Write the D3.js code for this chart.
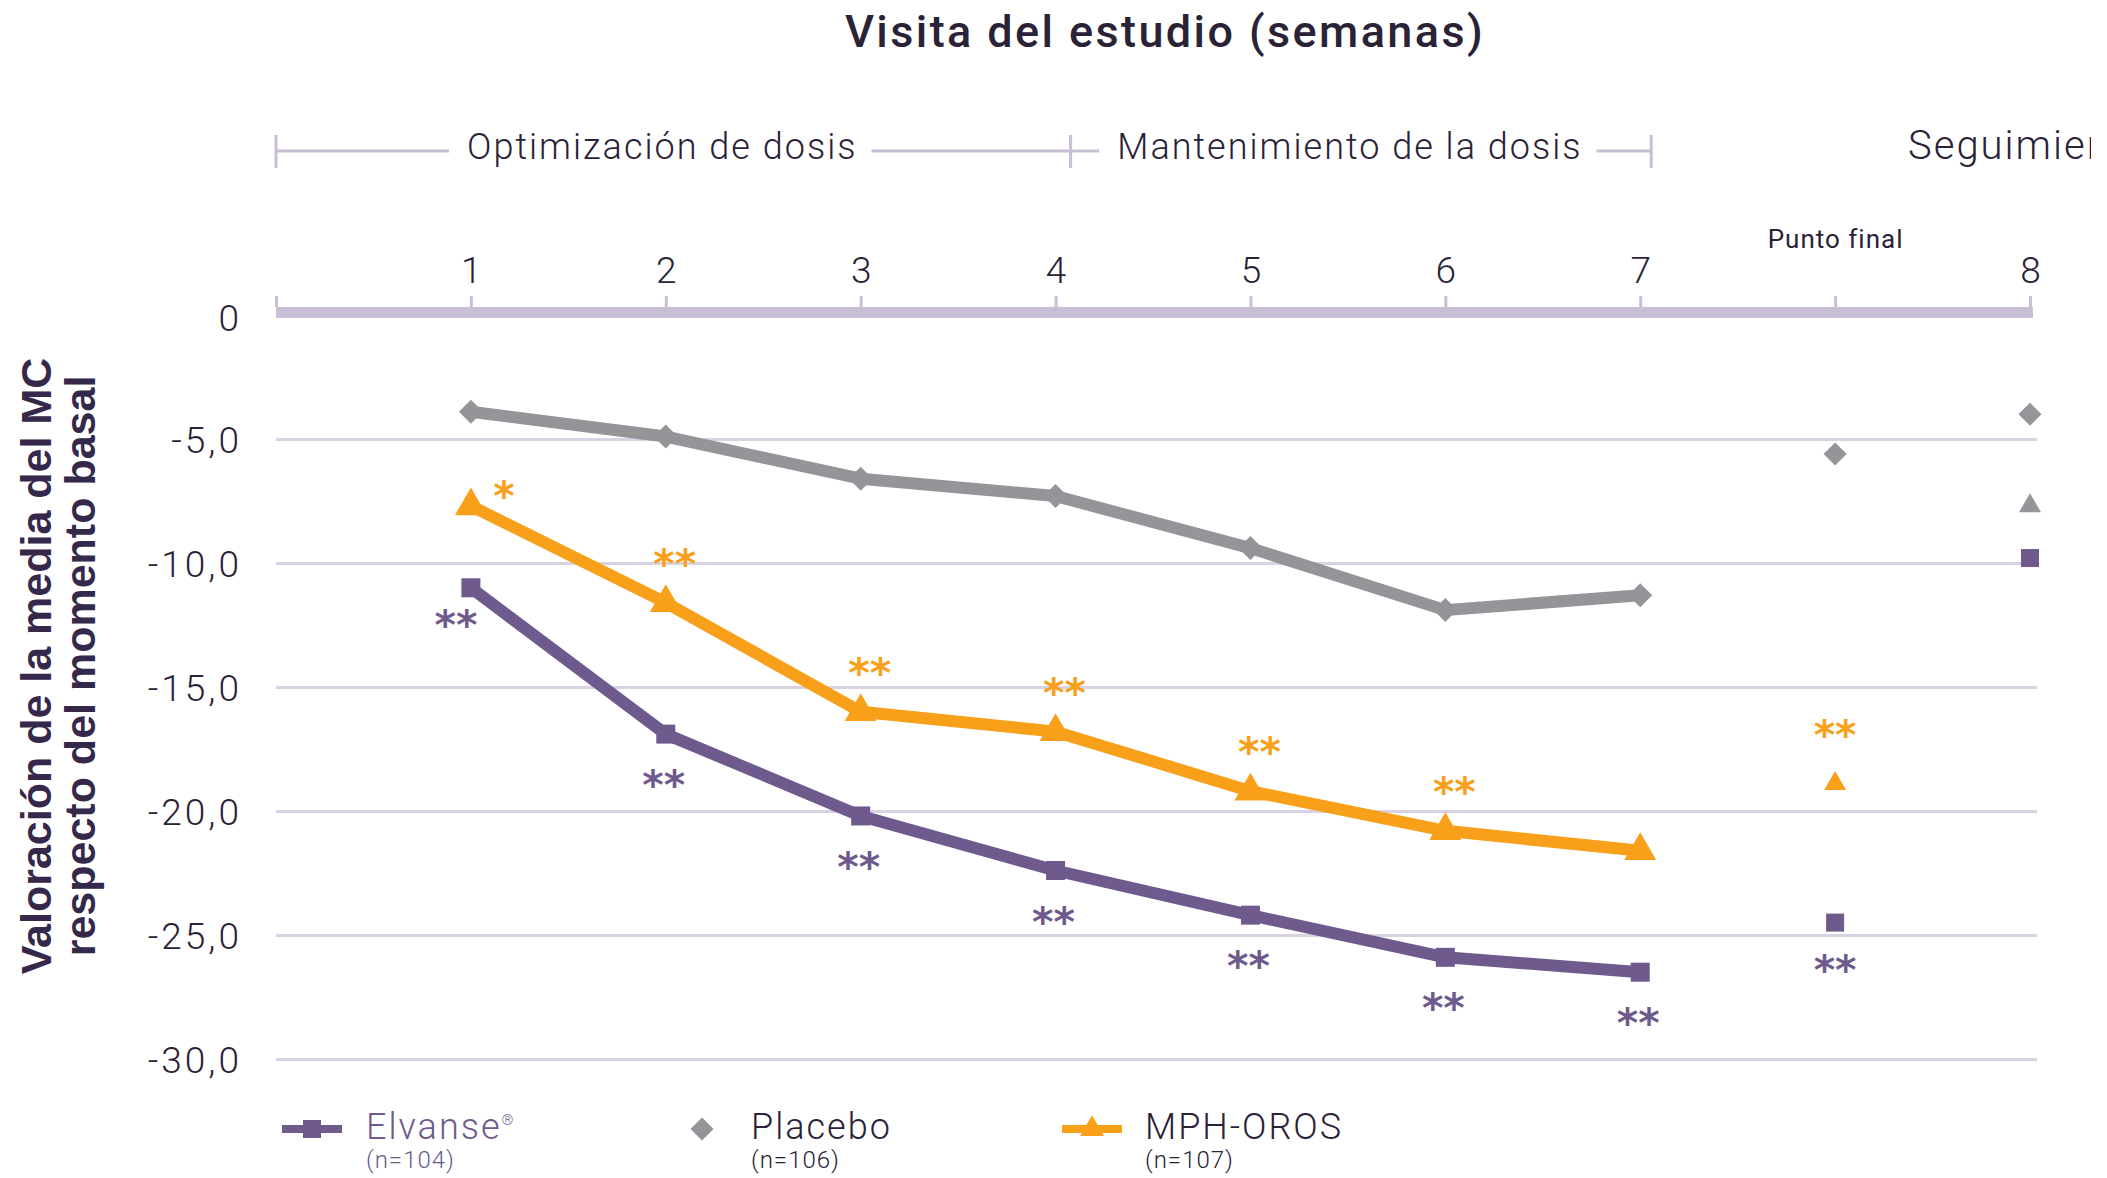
<!DOCTYPE html>
<html>
<head>
<meta charset="utf-8">
<script src="https://cdn.jsdelivr.net/npm/d3@7"></script>
<style>
  html, body { margin: 0; padding: 0; background: #fff; }
  svg { display: block; }
</style>
</head>
<body>
<svg id="chart" width="2107" height="1178"></svg>
<script>
// x positions: '0' is the start of the axis, 'PF' is the "Punto final" column
const visits = ['0', '1', '2', '3', '4', '5', '6', '7', 'PF', '8'];
const weeks = ['1', '2', '3', '4', '5', '6', '7'];
const yTicks = [0, -5, -10, -15, -20, -25, -30];

// LS mean change from baseline, weeks 1-7
const elvanse = [-11.0, -16.9, -20.2, -22.4, -24.2, -25.9, -26.5];
const placebo = [-3.9, -4.9, -6.6, -7.3, -9.4, -11.9, -11.3];
const mphOros = [-7.7, -11.6, -16.0, -16.8, -19.2, -20.8, -21.6];

// endpoint and follow-up (week 8) values: elvanse, placebo, mph-oros
const endpointVals = [-24.5, -5.6, -18.9];
const followUpVals = [-9.8, -4.0, -7.7];

// significance marks
const elvanseSig = ['**', '**', '**', '**', '**', '**', '**'];
const mphSig = ['*', '**', '**', '**', '**', '**', ''];
const endpointSig = ['**', '', '**'];

const legendNames = ['Elvanse', 'Placebo', 'MPH-OROS'];
const legendN = ['(n=104)', '(n=106)', '(n=107)'];

const PURPLE = '#6e5a8d', ORANGE = '#f9a01b', GRAY = '#939598';
const TEXT = '#2a2236', GRID = '#d9d2e3', BAR = '#c8bfd6';
const LIGHT = '300 36px Roboto';

const svg = d3.select('#chart');

const x = d3.scalePoint().domain(visits).range([276, 2030]);
const y = d3.scaleLinear().domain([0, -30]).range([315, 1059]);

const fmt = d3.formatLocale({ decimal: ',', thousands: '.', grouping: [3], currency: ['', ''], minus: '-' }).format('.1f');

// shapes
const square = s => `M${-s / 2},${-s / 2}h${s}v${s}h${-s}Z`;
const diamond = r => `M0,${-r}L${r},0L0,${r}L${-r},0Z`;
const triangle = side => {
    const h = side * Math.sqrt(3) / 2;
    return `M0,${-2 * h / 3}L${side / 2},${h / 3}L${-side / 2},${h / 3}Z`;
};

// title
svg.append('text')
    .attr('x', 1165).attr('y', 47)
    .attr('text-anchor', 'middle')
    .style('font', '500 45px Roboto')
    .style('letter-spacing', '2.4px')
    .style('fill', TEXT)
    .text('Visita del estudio (semanas)');

// y axis title
const yTitle = svg.append('g').attr('transform', 'translate(0,666) rotate(-90)')
    .style('font', 'bold 43px "Liberation Sans"')
    .style('fill', '#35284a')
    .attr('text-anchor', 'middle');
yTitle.append('text').attr('x', 0).attr('y', 51).text('Valoración de la media del MC');
yTitle.append('text').attr('x', 0).attr('y', 95).text('respecto del momento basal');

// phase brackets
const phases = [
    { name: 'Optimización de dosis', a: x('0'), b: x('4') + 15 },
    { name: 'Mantenimiento de la dosis', a: x('4') + 15, b: x('7') + 11 }
];
const bracketY = 151;
const pg = svg.append('g');
phases.forEach(p => {
    const cx = (p.a + p.b) / 2 - 11;
    const t = pg.append('text')
        .attr('x', cx).attr('y', 159)
        .attr('text-anchor', 'middle')
        .style('font', LIGHT)
        .style('letter-spacing', '2px')
        .style('fill', TEXT)
        .text(p.name);
    const w = t.node().getComputedTextLength();
    pg.append('line').attr('x1', p.a).attr('x2', cx - w / 2 - 18)
        .attr('y1', bracketY).attr('y2', bracketY);
    pg.append('line').attr('x1', cx + w / 2 + 14).attr('x2', p.b)
        .attr('y1', bracketY).attr('y2', bracketY);
    [p.a, p.b].forEach(v => pg.append('line')
        .attr('x1', v).attr('x2', v).attr('y1', 135).attr('y2', 168));
});
pg.selectAll('line').style('stroke', BAR).style('stroke-width', 3);

// follow-up label, cut at the right edge as in the source
svg.append('defs').append('clipPath').attr('id', 'cut')
    .append('rect').attr('x', 0).attr('y', 0).attr('width', 2091).attr('height', 1178);
svg.append('text')
    .attr('clip-path', 'url(#cut)')
    .attr('x', 1908).attr('y', 159)
    .style('font', '300 40px Roboto')
    .style('letter-spacing', '2px')
    .style('fill', TEXT)
    .text('Seguimiento');

// y axis + gridlines
const yAxis = svg.append('g')
    .attr('transform', `translate(${x('0')},0)`)
    .call(d3.axisLeft(y).tickValues(yTicks)
        .tickSize(-(2037 - x('0')))
        .tickPadding(34)
        .tickFormat(d => d === 0 ? '0' : fmt(d)));
yAxis.select('.domain').remove();
yAxis.selectAll('.tick line').style('stroke', GRID).style('stroke-width', 3)
    .style('opacity', d => d === 0 ? 0 : 1);
yAxis.selectAll('.tick text')
    .style('font', '300 37px Roboto').style('fill', TEXT)
    .style('letter-spacing', '3px')
    .attr('dy', d => d === 0 ? '0.42em' : '0.36em');

// x axis: thick bar at zero with ticks on top
svg.append('rect')
    .attr('x', x('0')).attr('y', y(0) - 8)
    .attr('width', x('8') + 3 - x('0')).attr('height', 11)
    .style('fill', BAR);
const xAxis = svg.append('g')
    .attr('transform', `translate(0,${y(0) - 8})`)
    .call(d3.axisTop(x).tickSize(11).tickPadding(13)
        .tickFormat(d => d === '0' ? '' : d === 'PF' ? 'Punto final' : d));
xAxis.select('.domain').remove();
xAxis.selectAll('.tick line').style('stroke', BAR).style('stroke-width', 3);
xAxis.selectAll('.tick text')
    .style('font', d => d === 'PF' ? '400 26px Roboto' : '300 37px Roboto')
    .style('letter-spacing', d => d === 'PF' ? '1px' : '0px')
    .style('fill', TEXT)
    .attr('y', d => d === 'PF' ? -59 : -24);

// series lines
const line = d3.line().x(d => x(d.w)).y(d => y(d.v));
const series = [
    { vals: placebo, color: GRAY, shape: diamond(12) },
    { vals: mphOros, color: ORANGE, shape: triangle(32) },
    { vals: elvanse, color: PURPLE, shape: square(19) }
];
series.forEach(s => {
    const pts = s.vals.map((v, i) => ({ w: weeks[i], v }));
    svg.append('path').datum(pts)
        .attr('d', line)
        .style('fill', 'none')
        .style('stroke', s.color)
        .style('stroke-width', 12)
        .style('stroke-linejoin', 'round');
    svg.append('g').selectAll('path').data(pts).join('path')
        .attr('transform', d => `translate(${x(d.w)},${y(d.v)})`)
        .attr('d', s.shape)
        .style('fill', s.color);
});

// endpoint column and week 8 follow-up
const endShapes = [square(18), diamond(11.5), triangle(22)];
const endColors = [PURPLE, GRAY, ORANGE];
const followColors = [PURPLE, GRAY, GRAY];
svg.append('g').selectAll('path').data(endpointVals).join('path')
    .attr('transform', d => `translate(${x('PF')},${y(d)})`)
    .attr('d', (d, i) => endShapes[i])
    .style('fill', (d, i) => endColors[i]);
svg.append('g').selectAll('path').data(followUpVals).join('path')
    .attr('transform', d => `translate(${x('8')},${y(d)})`)
    .attr('d', (d, i) => endShapes[i])
    .style('fill', (d, i) => followColors[i]);

// asterisks
const STAR = 'bold 41px "DejaVu Sans"';
function stars(labels, vals, color, dx, dy, first) {
    svg.append('g').selectAll('text')
        .data(labels.map((l, i) => ({ l, w: weeks[i], v: vals[i], i })).filter(d => d.l))
        .join('text')
        .attr('x', d => x(d.w) + (d.i === 0 ? first[0] : dx))
        .attr('y', d => y(d.v) + (d.i === 0 ? first[1] : dy) + 21)
        .attr('text-anchor', 'middle')
        .style('font', STAR)
        .style('fill', color)
        .text(d => d.l);
}
stars(mphSig, mphOros, ORANGE, 9, -46, [33, -17]);
stars(elvanseSig, elvanse, PURPLE, -2, 44, [-15, 30]);
svg.append('g').selectAll('text')
    .data(endpointSig.map((l, i) => ({ l, v: endpointVals[i], i })).filter(d => d.l))
    .join('text')
    .attr('x', x('PF'))
    .attr('y', d => y(d.v) + (d.i === 0 ? 40 : -56) + 21)
    .attr('text-anchor', 'middle')
    .style('font', STAR)
    .style('fill', d => endColors[d.i])
    .text(d => d.l);

// legend
const legendX = [282, 672, 1062];
const legendText = [366, 751, 1145];
const legendShapes = [square(18), diamond(11.5), triangle(24)];
const legendColor = [PURPLE, GRAY, ORANGE];
const legendTextColor = [PURPLE, TEXT, TEXT];
const lg = svg.append('g');
legendNames.forEach((name, i) => {
    if (i !== 1) {
        lg.append('line')
            .attr('x1', legendX[i]).attr('x2', legendX[i] + 60)
            .attr('y1', 1129).attr('y2', 1129)
            .style('stroke', legendColor[i]).style('stroke-width', 8);
    }
    lg.append('path')
        .attr('transform', `translate(${legendX[i] + 30},1129)`)
        .attr('d', legendShapes[i])
        .style('fill', legendColor[i]);
    const t = lg.append('text')
        .attr('x', legendText[i]).attr('y', 1139)
        .style('font', LIGHT)
        .style('letter-spacing', '2px')
        .style('fill', legendTextColor[i])
        .text(name);
    if (i === 0) {
        t.append('tspan').attr('dy', -14).style('font-size', '15px').text('®');
    }
    lg.append('text')
        .attr('x', legendText[i]).attr('y', 1168)
        .style('font', '300 24px Roboto')
        .style('letter-spacing', '1px')
        .style('fill', legendTextColor[i])
        .text(legendN[i]);
});
</script>
</body>
</html>
